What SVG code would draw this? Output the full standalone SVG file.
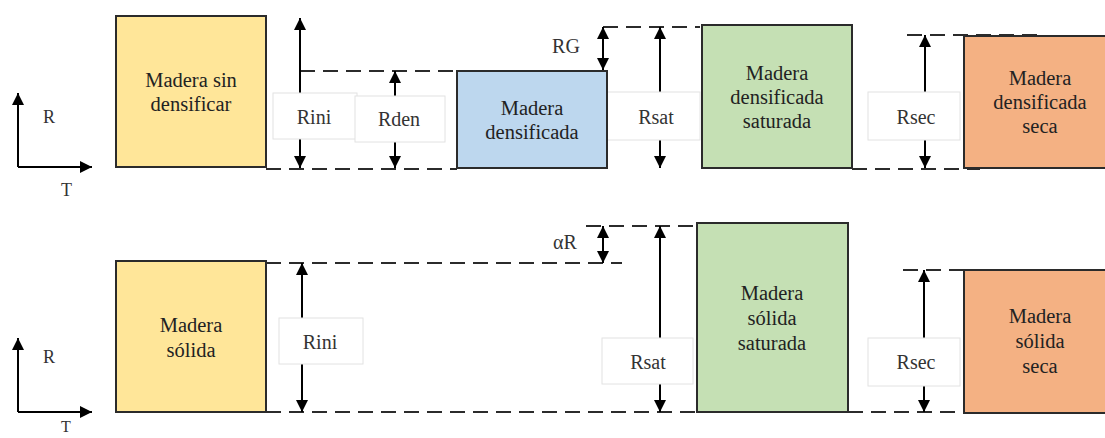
<svg xmlns="http://www.w3.org/2000/svg" width="1105" height="438" viewBox="0 0 1105 438">
<defs>
<marker id="ah" viewBox="0 0 10 10" refX="10" refY="5" markerWidth="12" markerHeight="13" markerUnits="userSpaceOnUse" orient="auto-start-reverse">
<path d="M0,0 L10,5 L0,10 z" fill="#000"/>
</marker>
<style>
.box{stroke:#2b2b2b;stroke-width:2}
.y{fill:#FFE699}.b{fill:#BDD7EE}.g{fill:#C5E0B4}.o{fill:#F4B183}
.t{font-family:"Liberation Serif",serif;font-size:20.5px;fill:#222;text-anchor:middle}
.ax{font-family:"Liberation Serif",serif;font-size:18px;fill:#333}
.lb{fill:#fff;stroke:#e2e2e2;stroke-width:1}
.lt{font-family:"Liberation Serif",serif;font-size:20px;fill:#333;text-anchor:middle}
.dash{stroke:#2b2b2b;stroke-width:2;stroke-dasharray:15 8;fill:none}
.arr{stroke:#000;stroke-width:2;fill:none}
</style>
</defs>

<g id="connectors">
<path class="dash" d="M266,169 H457 M300,71 H457 M852,169 H980 M603,27 H700"/>
<path class="dash" d="M907,35 H1045"/>
<path class="dash" d="M266,263 H622 M266,412 H697 M586,226 H697 M848,412 H980 M903,270 H1035"/>
<line class="arr" x1="18" y1="167" x2="18" y2="93" marker-end="url(#ah)"/>
<line class="arr" x1="18" y1="167" x2="92" y2="167" marker-end="url(#ah)"/>
<line class="arr" x1="18" y1="412" x2="18" y2="338" marker-end="url(#ah)"/>
<line class="arr" x1="18" y1="412" x2="92" y2="412" marker-end="url(#ah)"/>
<line class="arr" x1="300" y1="168" x2="300" y2="18" marker-start="url(#ah)" marker-end="url(#ah)"/>
<line class="arr" x1="395" y1="168" x2="395" y2="71" marker-start="url(#ah)" marker-end="url(#ah)"/>
<line class="arr" x1="603" y1="70" x2="603" y2="27" marker-start="url(#ah)" marker-end="url(#ah)"/>
<line class="arr" x1="660" y1="168" x2="660" y2="27" marker-start="url(#ah)" marker-end="url(#ah)"/>
<line class="arr" x1="925" y1="168" x2="925" y2="35" marker-start="url(#ah)" marker-end="url(#ah)"/>
<line class="arr" x1="302" y1="412" x2="302" y2="263" marker-start="url(#ah)" marker-end="url(#ah)"/>
<line class="arr" x1="603" y1="263" x2="603" y2="226" marker-start="url(#ah)" marker-end="url(#ah)"/>
<line class="arr" x1="660" y1="412" x2="660" y2="226" marker-start="url(#ah)" marker-end="url(#ah)"/>
<line class="arr" x1="924" y1="412" x2="924" y2="270" marker-start="url(#ah)" marker-end="url(#ah)"/>
</g>

<g id="axes-labels">
<text class="ax" x="43" y="123">R</text>
<text class="ax" x="61" y="196">T</text>
<text class="ax" x="43" y="363">R</text>
<text class="ax" x="61" y="432" style="font-size:16px">T</text>
</g>

<g id="label-Rini-top"><rect class="lb" x="273" y="93" width="84" height="46"/><text class="lt" x="314" y="124">Rini</text></g>
<g id="label-Rden"><rect class="lb" x="355" y="96" width="90" height="46"/><text class="lt" x="399" y="126">Rden</text></g>
<g id="label-RG"><text class="lt" x="566" y="53">RG</text></g>
<g id="label-Rsat-top"><rect class="lb" x="607" y="92" width="93" height="48"/><text class="lt" x="656" y="124">Rsat</text></g>
<g id="label-Rsec-top"><rect class="lb" x="868" y="92" width="92" height="48"/><text class="lt" x="916" y="124">Rsec</text></g>
<g id="label-Rini-bot"><rect class="lb" x="279" y="318" width="84" height="46"/><text class="lt" x="320" y="349">Rini</text></g>
<g id="label-aR"><text class="lt" x="565" y="249">αR</text></g>
<g id="label-Rsat-bot"><rect class="lb" x="602" y="338" width="91" height="46"/><text class="lt" x="648" y="369">Rsat</text></g>
<g id="label-Rsec-bot"><rect class="lb" x="868" y="338" width="92" height="48"/><text class="lt" x="916" y="369">Rsec</text></g>

<g id="n-sin-densificar"><rect class="box y" x="116" y="16" width="150" height="151"/><text class="t" x="191" y="87">Madera sin</text><text class="t" x="191" y="111">densificar</text></g>
<g id="n-densificada"><rect class="box b" x="457" y="71" width="150" height="97"/><text class="t" x="532" y="115">Madera</text><text class="t" x="532" y="139">densificada</text></g>
<g id="n-dens-saturada"><rect class="box g" x="702" y="25" width="150" height="143"/><text class="t" x="777" y="80">Madera</text><text class="t" x="777" y="104">densificada</text><text class="t" x="777" y="128">saturada</text></g>
<g id="n-dens-seca"><rect class="box o" x="964" y="36" width="150" height="132"/><text class="t" x="1040" y="85">Madera</text><text class="t" x="1040" y="109">densificada</text><text class="t" x="1040" y="133">seca</text></g>
<g id="n-solida"><rect class="box y" x="116" y="261" width="150" height="151"/><text class="t" x="191" y="332">Madera</text><text class="t" x="191" y="357">sólida</text></g>
<g id="n-sol-saturada"><rect class="box g" x="697" y="223" width="151" height="189"/><text class="t" x="772" y="300">Madera</text><text class="t" x="772" y="325">sólida</text><text class="t" x="772" y="350">saturada</text></g>
<g id="n-sol-seca"><rect class="box o" x="964" y="270" width="150" height="143"/><text class="t" x="1040" y="323">Madera</text><text class="t" x="1040" y="348">sólida</text><text class="t" x="1040" y="373">seca</text></g>
</svg>
